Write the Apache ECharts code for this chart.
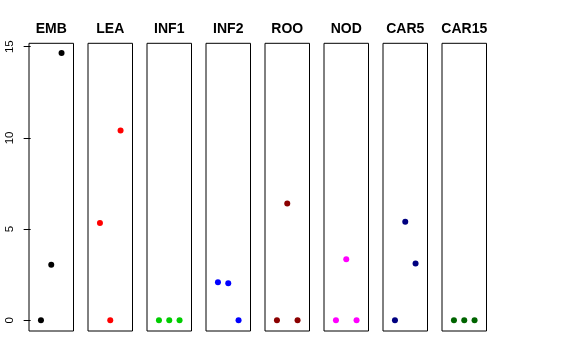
<!DOCTYPE html>
<html><head><meta charset="utf-8">
<script src="https://cdn.jsdelivr.net/npm/echarts@6/dist/echarts.min.js"></script>
<style>html,body{margin:0;padding:0;background:#fff}#c{width:576px;height:360px}</style>
</head><body><div id="c"></div>
<script>
const panels = ["EMB","LEA","INF1","INF2","ROO","NOD","CAR5","CAR15"];
const colors = ["#000000","#FF0000","#00CD00","#0000FF","#8B0000","#FF00FF","#000080","#006400"];
const xPositions = [1,2,3];
const EMB = [0, 3.05, 14.65];
const LEA = [5.33, 0, 10.4];
const INF1 = [0, 0, 0];
const INF2 = [2.09, 2.03, 0];
const ROO = [0, 6.4, 0];
const NOD = [0, 3.35, 0];
const CAR5 = [0, 5.4, 3.11];
const CAR15 = [0, 0, 0];
const values = [EMB, LEA, INF1, INF2, ROO, NOD, CAR5, CAR15];
const yTicks = [0, 5, 10, 15];

const left0 = 29, step = 59, pw = 44.5, gTop = 43.3, ph = 287.7;
const grids = [], xAxes = [], yAxes = [], series = [], titles = [];
panels.forEach((name, i) => {
  const l = left0 + step * i;
  grids.push({left: l, top: gTop, width: pw, height: ph, show: true, borderColor: '#000', borderWidth: 1, backgroundColor: 'transparent'});
  xAxes.push({gridIndex: i, type: 'value', min: -0.16, max: 4.16, show: false});
  yAxes.push({gridIndex: i, type: 'value', min: -0.584, max: 15.184, show: i === 0,
    axisLine: {show: false}, splitLine: {show: false},
    axisTick: {show: true, length: 7, lineStyle: {color: '#000'}, customValues: yTicks},
    axisLabel: {show: true, rotate: 90, margin: 13, color: '#000', fontSize: 11.5, fontFamily: 'Liberation Sans', customValues: yTicks}
  });
  series.push({type: 'scatter', xAxisIndex: i, yAxisIndex: i, symbolSize: 6, itemStyle: {color: colors[i], opacity: 1},
    data: xPositions.map((x, k) => [x, values[i][k]]), silent: true});
  titles.push({text: name, left: l + pw / 2, top: 22, textAlign: 'center', padding: 0,
    textStyle: {fontFamily: 'Liberation Sans', fontWeight: 'bold', fontSize: 14, color: '#000'}});
});
const chart = echarts.init(document.getElementById('c'), null, {renderer: 'canvas'});
chart.setOption({animation: false, title: titles, grid: grids, xAxis: xAxes, yAxis: yAxes, series: series});
</script></body></html>
